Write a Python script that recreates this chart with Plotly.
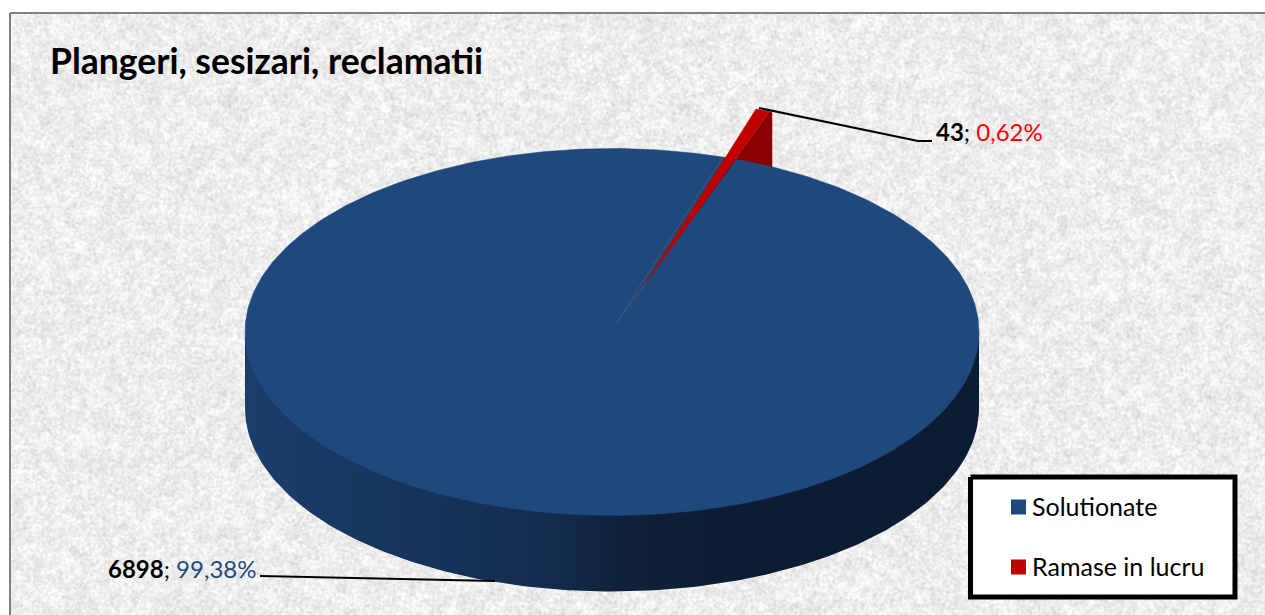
import base64
import math
import struct
import zlib

import numpy as np
import plotly.graph_objects as go

# Data
categories = ["Solutionate", "Ramase in lucru"]
values = [6898, 43]
percent_labels = ["99,38%", "0,62%"]
title_text = "Plangeri, sesizari, reclamatii"

# Style and layout (pixel-based axes)
W, H = 1265, 615
CX, CY, RX, RY = 612, 332, 367, 183.5
APEX = (615, 325)
DEPTH = 76
RED_START = 17.6
RED_OUT = (33, 48)
RED_TIP = (30, 40)
WALL_DX = 2.5
BLUE, RED, DARK_RED = "#1F497D", "#C00000", "#8B0000"
GAP = "#2A4468"
FONT = "Lato"
LEGEND_X = 1018.5
LEGEND_TEXT_X = 1032
LEGEND_TEXT_DY = 3
LEGEND_Y = [507, 567]
LEGEND_BOX = (970.5, 477, 1235, 597)

total = sum(values)
sweep_red = 360 * values[1] / total
sweep_blue = 360 * values[0] / total
RED_END = RED_START + sweep_red


def pt(deg, ox=0, oy=0):
    t = math.radians(deg)
    return CX + ox + RX * math.sin(t), CY + oy - RY * math.cos(t)


def arc(a, b, n, ox=0, oy=0):
    return [pt(a + (b - a) * i / n, ox, oy) for i in range(n + 1)]


def poly(points, color, **kw):
    xs = [p[0] for p in points]
    ys = [p[1] for p in points]
    return go.Scatter(x=xs, y=ys, mode="lines", fill="toself", fillcolor=color,
                      line=dict(width=0.5, color=color), showlegend=False,
                      hoverinfo="skip", **kw)


def paper_texture(w, h):
    """Decorative mottled paper background (not chart data), as a PNG data URI."""
    rng = np.random.default_rng(7)

    def blur(a, k):
        for axis in (0, 1):
            a = sum(np.roll(a, s, axis=axis) for s in range(k)) / k
        return a

    fine = blur(rng.random((h, w)), 3)
    coarse = blur(rng.random((h, w)), 9)
    fine = (fine - fine.mean()) / fine.std()
    coarse = (coarse - coarse.mean()) / coarse.std()
    gray = 238 + 6.5 * fine + 3.5 * coarse
    gray = np.clip(gray, 190, 252).astype(np.uint8)
    raw = b"".join(b"\x00" + row.tobytes() for row in gray)

    def chunk(tag, data):
        body = tag + data
        return struct.pack(">I", len(data)) + body + struct.pack(">I", zlib.crc32(body))

    png = (b"\x89PNG\r\n\x1a\n" + chunk(b"IHDR", struct.pack(">IIBBBBB", w, h, 8, 0, 0, 0, 0))
           + chunk(b"IDAT", zlib.compress(raw, 9)) + chunk(b"IEND", b""))
    return "data:image/png;base64," + base64.b64encode(png).decode()


fig = go.Figure()

# Red wedge: wall behind the blue disc
tip = (APEX[0] + RED_TIP[0], APEX[1] - RED_TIP[1])
red_arc = arc(RED_START, RED_END, 8, RED_OUT[0], -RED_OUT[1])
wall_x = red_arc[-1][0] + WALL_DX
wall = [tip, red_arc[-1], (wall_x, red_arc[-1][1] + 1), (wall_x, red_arc[-1][1] + DEPTH),
        (tip[0], tip[1] + DEPTH)]

# Blue wedge: interior seen through the gap
gap = [APEX] + arc(RED_START, RED_END, 4)
fig.add_trace(poly(gap, GAP))
fig.add_trace(poly(wall, DARK_RED))

# Blue wedge: side band with horizontal gradient (top edge tucked under the disc)
front_top = arc(90, 270, 160, 0, -4)
front_bottom = arc(270, 90, 160, 0, DEPTH)
fig.add_trace(go.Scatter(
    x=[p[0] for p in front_top + front_bottom],
    y=[p[1] for p in front_top + front_bottom],
    mode="lines", fill="toself", line=dict(width=0), showlegend=False, hoverinfo="skip",
    fillgradient=dict(type="horizontal",
                      colorscale=[[0, "#1C3D6B"], [0.185, "#17365F"], [0.41, "#132C4E"],
                                  [0.54, "#0F2038"], [0.67, "#0C1C33"], [1, "#0C1C33"]]),
))

# Blue wedge: top
fig.add_trace(poly([APEX] + arc(RED_END, RED_END + sweep_blue, 360), BLUE))

# Red wedge: top
fig.add_trace(poly([tip] + red_arc, RED))

# Leader lines
fig.add_trace(go.Scatter(x=[759, 918, 932], y=[108, 141, 141], mode="lines",
                         line=dict(color="black", width=2), showlegend=False, hoverinfo="skip"))
fig.add_trace(go.Scatter(x=[260, 495], y=[576, 581], mode="lines",
                         line=dict(color="black", width=2), showlegend=False, hoverinfo="skip"))

# Legend box and entries
bx0, by0, bx1, by1 = LEGEND_BOX
fig.add_trace(go.Scatter(x=[bx0, bx1, bx1, bx0, bx0], y=[by0, by0, by1, by1, by0], mode="lines",
                         fill="toself", fillcolor="white", line=dict(color="black", width=5),
                         showlegend=False, hoverinfo="skip"))
for name, color, ly in zip(categories, [BLUE, RED], LEGEND_Y):
    fig.add_trace(go.Scatter(x=[LEGEND_X], y=[ly], mode="markers", name=name, showlegend=False,
                             hoverinfo="name", marker=dict(symbol="square", size=15, color=color)))
    fig.add_trace(go.Scatter(x=[LEGEND_TEXT_X], y=[ly + LEGEND_TEXT_DY], mode="text", text=[name],
                             textposition="middle right", showlegend=False, hoverinfo="skip",
                             cliponaxis=False, textfont=dict(family=FONT, size=25, color="black")))

fig.add_annotation(x=48, y=60, xref="x", yref="y", text=f"<b>{title_text}</b>", showarrow=False,
                   xanchor="left", yanchor="middle", font=dict(family=FONT, size=35.5, color="black"))
fig.add_annotation(x=934, y=131, xref="x", yref="y",
                   text=f"<b>{values[1]}</b>; <span style='color:#FF0000'>{percent_labels[1]}</span>",
                   showarrow=False, xanchor="left", yanchor="middle",
                   font=dict(family=FONT, size=24, color="black"))
fig.add_annotation(x=106, y=568, xref="x", yref="y",
                   text=f"<b>{values[0]}</b>; <span style='color:{BLUE}'>{percent_labels[0]}</span>",
                   showarrow=False, xanchor="left", yanchor="middle",
                   font=dict(family=FONT, size=24, color="black"))

fig.update_layout(
    width=W, height=H, margin=dict(l=0, r=0, t=0, b=0), autosize=False,
    paper_bgcolor="white", plot_bgcolor="white",
    showlegend=False,
    xaxis=dict(range=[0, W], visible=False, fixedrange=True),
    yaxis=dict(range=[H, 0], visible=False, fixedrange=True),
    images=[dict(source=paper_texture(W - 10, H - 13), xref="x", yref="y", x=10, y=13,
                 sizex=W - 10, sizey=H - 13, sizing="stretch", xanchor="left", yanchor="top",
                 layer="below")],
    shapes=[
        dict(type="line", xref="x", yref="y", x0=10, y0=13, x1=W + 5, y1=13, layer="above",
             line=dict(color="#808080", width=2)),
        dict(type="line", xref="x", yref="y", x0=10, y0=13, x1=10, y1=H + 5, layer="above",
             line=dict(color="#808080", width=2)),
    ],
)

fig.write_html("out.html", post_script="document.body.style.margin='0';", config=dict(displayModeBar=False))
